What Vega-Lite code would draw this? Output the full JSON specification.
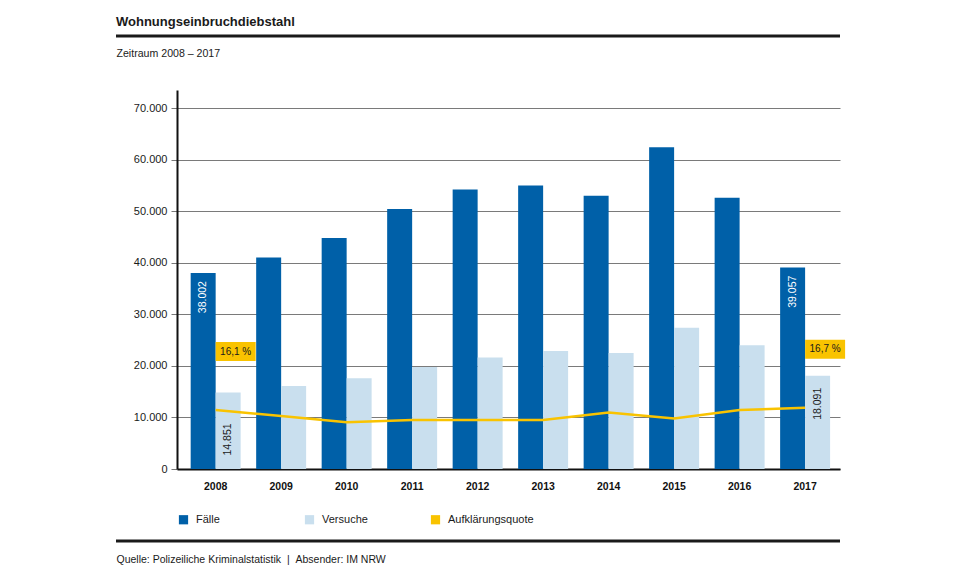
{
  "$schema": "https://vega.github.io/schema/vega-lite/v6.json",
  "width": 663,
  "height": 379,
  "autosize": {"type": "none"},
  "padding": {"left": 177, "top": 90, "right": 120, "bottom": 111},
  "background": "white",
  "config": {
    "font": "Liberation Sans",
    "locale": {"number": {"decimal": ",", "thousands": ".", "grouping": [3], "currency": ["", " €"]}},
    "view": {"stroke": null}
  },
  "title": {
    "text": "Wohnungseinbruchdiebstahl",
    "anchor": "start",
    "frame": "group",
    "dx": -61,
    "offset": 6,
    "fontSize": 13,
    "fontWeight": "bold",
    "color": "#1a1a1a"
  },
  "datasets": {
    "counts": [
      {"year": "2008", "series": "Fälle", "value": 38002},
      {"year": "2008", "series": "Versuche", "value": 14851},
      {"year": "2009", "series": "Fälle", "value": 41000},
      {"year": "2009", "series": "Versuche", "value": 16100},
      {"year": "2010", "series": "Fälle", "value": 44800},
      {"year": "2010", "series": "Versuche", "value": 17600},
      {"year": "2011", "series": "Fälle", "value": 50400},
      {"year": "2011", "series": "Versuche", "value": 19800},
      {"year": "2012", "series": "Fälle", "value": 54200},
      {"year": "2012", "series": "Versuche", "value": 21600},
      {"year": "2013", "series": "Fälle", "value": 55000},
      {"year": "2013", "series": "Versuche", "value": 22900},
      {"year": "2014", "series": "Fälle", "value": 53000},
      {"year": "2014", "series": "Versuche", "value": 22500},
      {"year": "2015", "series": "Fälle", "value": 62400},
      {"year": "2015", "series": "Versuche", "value": 27400},
      {"year": "2016", "series": "Fälle", "value": 52600},
      {"year": "2016", "series": "Versuche", "value": 24000},
      {"year": "2017", "series": "Fälle", "value": 39057},
      {"year": "2017", "series": "Versuche", "value": 18091}
    ],
    "quote": [
      {"year": "2008", "quote": 16.1},
      {"year": "2009", "quote": 14.5},
      {"year": "2010", "quote": 12.8},
      {"year": "2011", "quote": 13.4},
      {"year": "2012", "quote": 13.4},
      {"year": "2013", "quote": 13.4},
      {"year": "2014", "quote": 15.4},
      {"year": "2015", "quote": 13.8},
      {"year": "2016", "quote": 16.1},
      {"year": "2017", "quote": 16.7}
    ]
  },
  "resolve": {"scale": {"y": "independent"}, "axis": {"y": "independent"}},
  "layer": [
    {
      "data": {"name": "counts"},
      "mark": {"type": "bar"},
      "encoding": {
        "x": {
          "field": "year", "type": "ordinal",
          "scale": {"paddingInner": 0.237, "paddingOuter": 0.18, "align": 0.58},
          "axis": {
            "domainColor": "#111", "domainWidth": 2, "ticks": false,
            "labelAngle": 0, "labelFontWeight": "bold", "labelFontSize": 10.5, "labelColor": "#111",
            "labelPadding": 12,
            "title": "Quelle: Polizeiliche Kriminalstatistik\u00a0\u00a0|\u00a0\u00a0Absender: IM NRW",
            "titleFontWeight": "normal", "titleFontSize": 10.5, "titleColor": "#1a1a1a",
            "titleAnchor": "start", "titleAlign": "left", "titleBaseline": "middle",
            "titleX": -61, "titleY": 90
          }
        },
        "xOffset": {"field": "series", "type": "nominal", "sort": ["Fälle", "Versuche"]},
        "y": {
          "field": "value", "type": "quantitative",
          "scale": {"domain": [0, 73500], "nice": false, "zero": true},
          "axis": {
            "title": "Zeitraum 2008 – 2017", "titleAngle": 0, "titleX": -61, "titleY": -37,
            "titleAlign": "left", "titleBaseline": "middle", "titleFontWeight": "normal",
            "titleFontSize": 10.6, "titleColor": "#1a1a1a",
            "values": [0, 10000, 20000, 30000, 40000, 50000, 60000, 70000],
            "format": ",d", "labelFontSize": 11, "labelColor": "#1a1a1a", "labelPadding": 4,
            "domainColor": "#111", "domainWidth": 2,
            "tickColor": "#777", "tickSize": 6,
            "gridColor": "#7a7a7a", "gridWidth": 1
          }
        },
        "color": {
          "field": "series", "type": "nominal",
          "scale": {"domain": ["Fälle", "Versuche", "Aufklärungsquote"], "range": ["#0060A8", "#C9DFEE", "#F9C300"]},
          "legend": {
            "title": null, "orient": "none", "direction": "horizontal", "legendX": 1, "legendY": 424,
            "columns": 3, "gridAlign": "all", "columnPadding": 22,
            "symbolType": "square", "symbolSize": 85, "symbolStrokeWidth": 0,
            "labelFontSize": 11, "labelColor": "#1a1a1a", "labelOffset": 7
          }
        }
      }
    },
    {
      "data": {"name": "counts"},
      "transform": [{"filter": {"field": "year", "oneOf": ["2008", "2017"]}}, {"filter": {"field": "series", "equal": "Fälle"}}],
      "mark": {"type": "text", "angle": 270, "align": "right", "baseline": "middle", "dx": -8, "fontSize": 10.5, "color": "white"},
      "encoding": {
        "x": {"field": "year", "type": "ordinal"},
        "xOffset": {"field": "series", "type": "nominal", "sort": ["Fälle", "Versuche"]},
        "y": {"field": "value", "type": "quantitative", "scale": {"domain": [0, 73500], "nice": false}, "axis": null},
        "text": {"field": "value", "type": "quantitative", "format": ",d"}
      }
    },
    {
      "data": {"name": "counts"},
      "transform": [{"filter": {"field": "year", "equal": "2008"}}, {"filter": {"field": "series", "equal": "Versuche"}}],
      "mark": {"type": "text", "angle": 270, "align": "right", "baseline": "middle", "dx": -31, "fontSize": 10.5, "color": "#1a1a1a"},
      "encoding": {
        "x": {"field": "year", "type": "ordinal"},
        "xOffset": {"field": "series", "type": "nominal", "sort": ["Fälle", "Versuche"]},
        "y": {"field": "value", "type": "quantitative", "scale": {"domain": [0, 73500], "nice": false}, "axis": null},
        "text": {"field": "value", "type": "quantitative", "format": ",d"}
      }
    },
    {
      "data": {"name": "counts"},
      "transform": [{"filter": {"field": "year", "equal": "2017"}}, {"filter": {"field": "series", "equal": "Versuche"}}],
      "mark": {"type": "text", "angle": 270, "align": "right", "baseline": "middle", "dx": -12, "fontSize": 10.5, "color": "#1a1a1a"},
      "encoding": {
        "x": {"field": "year", "type": "ordinal"},
        "xOffset": {"field": "series", "type": "nominal", "sort": ["Fälle", "Versuche"]},
        "y": {"field": "value", "type": "quantitative", "scale": {"domain": [0, 73500], "nice": false}, "axis": null},
        "text": {"field": "value", "type": "quantitative", "format": ",d"}
      }
    },
    {
      "data": {"name": "quote"},
      "mark": {"type": "line", "color": "#F9C300", "strokeWidth": 2.5},
      "encoding": {
        "x": {"field": "year", "type": "ordinal"},
        "y": {"field": "quote", "type": "quantitative", "scale": {"domain": [0, 103.5], "nice": false}, "axis": null}
      }
    },
    {
      "data": {"name": "quote"},
      "transform": [{"filter": {"field": "year", "oneOf": ["2008", "2017"]}}],
      "mark": {"type": "point", "shape": "M-1,-0.475H1V0.475H-1Z", "size": 1600, "filled": true, "opacity": 1, "color": "#F9C300", "strokeWidth": 0, "xOffset": 20, "yOffset": -58.5},
      "encoding": {
        "x": {"field": "year", "type": "ordinal"},
        "y": {"field": "quote", "type": "quantitative", "scale": {"domain": [0, 103.5], "nice": false}, "axis": null}
      }
    },
    {
      "data": {"name": "quote"},
      "transform": [{"filter": {"field": "year", "oneOf": ["2008", "2017"]}}],
      "mark": {"type": "text", "align": "center", "baseline": "middle", "fontSize": 10, "color": "#1a1a1a", "xOffset": 20, "yOffset": -58.5,
        "text": {"expr": "replace(format(datum.quote, '.1f'), '.', ',') + ' %'"}},
      "encoding": {
        "x": {"field": "year", "type": "ordinal"},
        "y": {"field": "quote", "type": "quantitative", "scale": {"domain": [0, 103.5], "nice": false}, "axis": null}
      }
    },
    {
      "data": {"values": [{"pos": "top"}]},
      "mark": {"type": "rule", "color": "#1a1a1a", "strokeWidth": 3},
      "encoding": {"x": {"value": -61}, "x2": {"value": 663}, "y": {"value": -54}}
    },
    {
      "data": {"values": [{"pos": "bottom"}]},
      "mark": {"type": "rule", "color": "#1a1a1a", "strokeWidth": 3},
      "encoding": {"x": {"value": -61}, "x2": {"value": 663}, "y": {"value": 451}}
    }
  ]
}
